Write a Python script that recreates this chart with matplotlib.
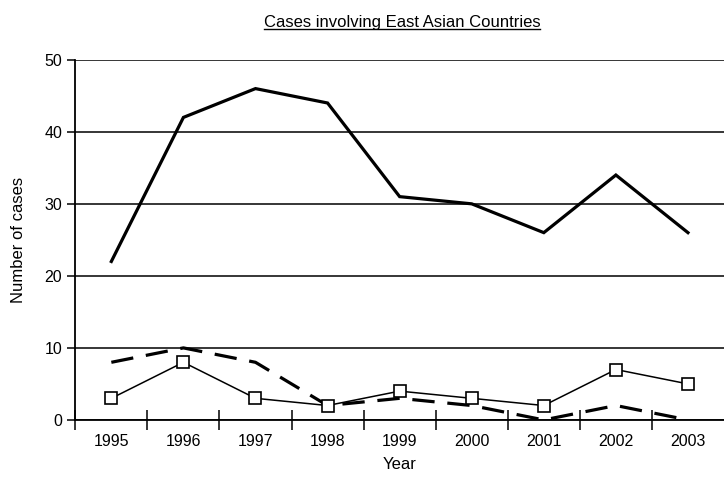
import matplotlib.pyplot as plt
from matplotlib.lines import Line2D
import numpy as np

plt.rcParams['font.family'] = ['Liberation Sans', 'DejaVu Sans']

years = ['1995', '1996', '1997', '1998', '1999', '2000', '2001', '2002', '2003']
total_cases = [22, 42, 46, 44, 31, 30, 26, 34, 26]
dashed_cases = [8, 10, 8, 2, 3, 2, 0, 2, 0]
square_cases = [3, 8, 3, 2, 4, 3, 2, 7, 5]

fig = plt.figure(figsize=(7.24, 4.9), dpi=100)
ax = fig.add_axes([0.104, 0.143, 0.896, 0.735])

x = np.arange(len(years))
ax.plot(x, total_cases, color='black', lw=2.3, solid_joinstyle='miter')
ax.plot(x, dashed_cases, color='black', lw=2.3, linestyle=(0, (7, 4)))
ax.plot(x, square_cases, color='black', lw=1.1, marker='s', markersize=8,
        markerfacecolor='white', markeredgecolor='black', markeredgewidth=1.2)

ax.set_xlim(-0.5, len(years) - 0.5)
ax.set_ylim(0, 50)
ax.set_yticks([0, 10, 20, 30, 40, 50])
ax.yaxis.grid(True, color='black', lw=1.1)
ax.set_axisbelow(True)

# category boundaries as major ticks, labels on minor ticks
ax.set_xticks(np.arange(-0.5, len(years) - 0.5, 1))
ax.set_xticklabels([])
ax.set_xticks(x, minor=True)
ax.set_xticklabels(years, minor=True)
ax.tick_params(axis='x', which='major', direction='inout', length=14, width=1.1)
ax.tick_params(axis='x', which='minor', length=0, pad=10, labelsize=11.5)
ax.tick_params(axis='y', direction='out', length=6, width=1.1, labelsize=11.5)

for side in ['top', 'right']:
    ax.spines[side].set_visible(False)
ax.spines['left'].set_linewidth(1.3)
ax.spines['bottom'].set_linewidth(1.3)

ax.set_ylabel('Number of cases', fontsize=12, labelpad=13)
ax.set_xlabel('Year', fontsize=12, labelpad=6)

title = fig.text(0.555, 0.955, 'Cases involving East Asian Countries',
                 ha='center', va='center', fontsize=12)

# underline the title
fig.canvas.draw()
bb = title.get_window_extent().transformed(fig.transFigure.inverted())
fig.add_artist(Line2D([bb.x0, bb.x1], [bb.y0 + 0.002, bb.y0 + 0.002],
                      color='black', lw=1, transform=fig.transFigure))

fig.savefig('out.png', dpi=100)
